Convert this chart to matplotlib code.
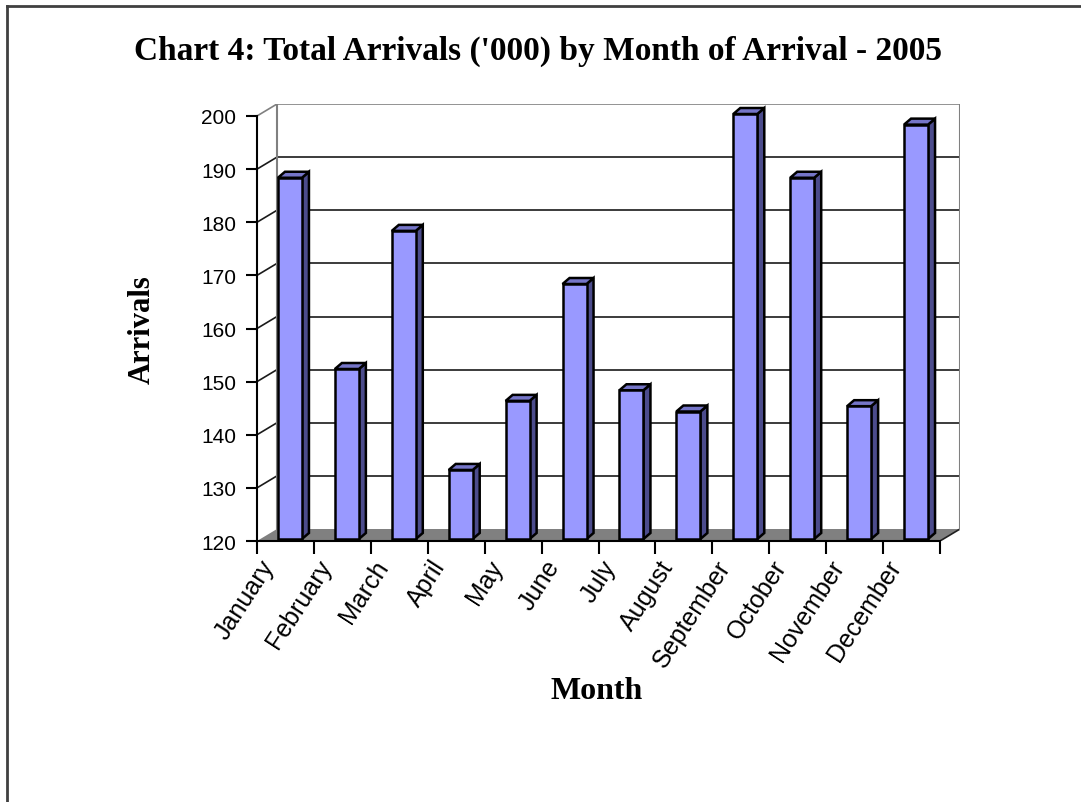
import matplotlib

matplotlib.use("Agg")

import matplotlib.pyplot as plt
import matplotlib.transforms as mtransforms
from matplotlib.lines import Line2D
from matplotlib.patches import Polygon
import numpy as np

months = [
    "January", "February", "March", "April", "May", "June",
    "July", "August", "September", "October", "November", "December",
]
arrivals = [188, 152, 178, 133, 146, 168, 148, 144, 200, 188, 145, 198]
y_ticks = [120, 130, 140, 150, 160, 170, 180, 190, 200]

W, H = 1081, 803
PX_X = 683 / 12      # pixels per category
PX_Y = 425 / 80      # pixels per unit of arrivals
Y_MIN, Y_MAX = 120, 200

# 3d look, expressed in data units
wall_dx, wall_dy = 20 / PX_X, 12 / PX_Y
bar_shift, bar_lift = 4.5 / PX_X, 2 / PX_Y
bar_w = 24 / PX_X
side_dx, side_dy = 7 / PX_X, 6 / PX_Y

front_col = "#9999ff"
side_col = "#4c4c8c"
top_col = "#7575c8"
grid_col = "#1a1a1a"
wall_col = "#808080"

fig = plt.figure(figsize=(W / 100, H / 100), dpi=100)
ax = fig.add_axes([257 / W, 1 - 542 / H, 703 / W, 437 / H])
ax.set_xlim(-0.5, 11.5 + wall_dx)
ax.set_ylim(Y_MIN, Y_MAX + wall_dy)
ax.patch.set_alpha(0)

x = np.arange(len(months))
left_edge, right_edge = -0.5, len(months) - 0.5

# floor
ax.add_patch(Polygon(
    [(left_edge, Y_MIN), (right_edge, Y_MIN),
     (right_edge + wall_dx, Y_MIN + wall_dy), (left_edge + wall_dx, Y_MIN + wall_dy)],
    closed=True, facecolor="#808080", edgecolor="none", zorder=1))
ax.plot([right_edge, right_edge + wall_dx], [Y_MIN, Y_MIN + wall_dy],
        color="#202020", lw=1.2, zorder=2)

# back wall and side wall gridlines
for v in y_ticks[1:]:
    c = wall_col if v == Y_MAX else grid_col
    ax.plot([left_edge + wall_dx, right_edge + wall_dx], [v + wall_dy, v + wall_dy],
            color=c, lw=1.2, zorder=2)
    ax.plot([left_edge, left_edge + wall_dx], [v, v + wall_dy], color=c, lw=1.2, zorder=2)
for xe in (left_edge + wall_dx, right_edge + wall_dx):
    ax.plot([xe, xe], [Y_MIN + wall_dy, Y_MAX + wall_dy], color=wall_col, lw=1.5, zorder=2)

# bars: front faces
base = Y_MIN + bar_lift
centers = x + bar_shift
ax.bar(centers, [v - Y_MIN for v in arrivals], width=bar_w, bottom=base,
       color=front_col, edgecolor="black", linewidth=1.8, zorder=4)

# bars: side and top faces
for cx, v in zip(centers, arrivals):
    l, r = cx - bar_w / 2, cx + bar_w / 2
    top = v + bar_lift
    ax.add_patch(Polygon(
        [(r, base), (r + side_dx, base + side_dy), (r + side_dx, top + side_dy), (r, top)],
        closed=True, facecolor=side_col, edgecolor="black", linewidth=1.8, zorder=3))
    ax.add_patch(Polygon(
        [(l, top), (r, top), (r + side_dx, top + side_dy), (l + side_dx, top + side_dy)],
        closed=True, facecolor=top_col, edgecolor="black", linewidth=1.8, zorder=3))

# axes
for side in ("top", "right"):
    ax.spines[side].set_visible(False)
ax.spines["left"].set_bounds(Y_MIN, Y_MAX)
ax.spines["bottom"].set_bounds(left_edge, right_edge)
for side in ("left", "bottom"):
    ax.spines[side].set_linewidth(1.5)
    ax.spines[side].set_zorder(5)

ax.set_yticks(y_ticks)
ax.set_yticklabels([str(v) for v in y_ticks], fontsize=15, family="Liberation Sans")
ax.tick_params(axis="y", length=8, width=1.5, pad=7)

ax.set_xticks(np.arange(left_edge, right_edge + 0.1, 1))
ax.set_xticklabels([])
ax.tick_params(axis="x", which="major", length=9, width=1.5)
ax.set_xticks(x, minor=True)
ax.set_xticklabels(months, minor=True, fontsize=18, family="Liberation Sans",
                   rotation=57, ha="right", va="center", rotation_mode="anchor")
ax.tick_params(axis="x", which="minor", length=0, pad=15)
shift = mtransforms.ScaledTranslation(-0.16, 0, fig.dpi_scale_trans)
for lab in ax.get_xticklabels(minor=True):
    lab.set_transform(lab.get_transform() + shift)

fig.text(538 / W, 1 - 60 / H, "Chart 4: Total Arrivals ('000) by Month of Arrival - 2005",
         ha="center", va="baseline", fontsize=24, fontweight="bold", family="Liberation Serif")
fig.text(142 / W, 1 - 330 / H, "Arrivals", rotation=90, ha="center", va="center",
         fontsize=22, fontweight="bold", family="Liberation Serif")
fig.text(597 / W, 1 - 692 / H, "Month", ha="center", va="center",
         fontsize=23, fontweight="bold", family="Liberation Serif")

# outer frame (only top and left edges are visible in the crop)
fig.add_artist(Line2D([6.5 / W, 1], [1 - 7 / H, 1 - 7 / H], color="#404040", lw=2,
                      transform=fig.transFigure))
fig.add_artist(Line2D([6.5 / W, 6.5 / W], [0, 1 - 7 / H], color="#404040", lw=2,
                      transform=fig.transFigure))

fig.savefig("out.png", dpi=100)
plt.close(fig)
